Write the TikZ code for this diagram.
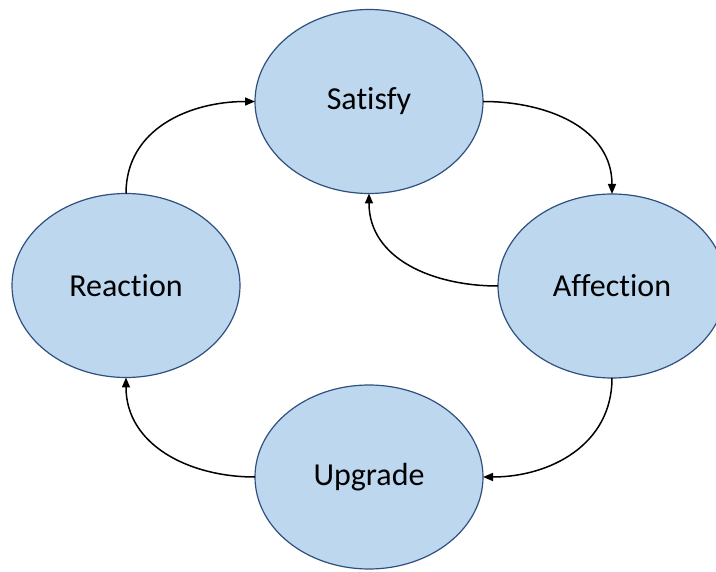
\documentclass[tikz,border=0pt]{standalone}
\usepackage{fontspec}
\setmainfont{Carlito}[Ligatures={NoCommon,NoContextual}]
\usetikzlibrary{shapes.geometric,arrows.meta}
\definecolor{fillblue}{HTML}{BDD7EE}
\definecolor{edgeblue}{HTML}{2F4F7F}
\tikzset{
  stage/.style={ellipse, draw=edgeblue, fill=fillblue, line width=1.2pt,
    minimum width=228pt, minimum height=184pt, inner sep=0pt, outer sep=0pt,
    font=\fontsize{32}{38}\selectfont, text=black},
  arr/.style={-{Triangle[length=10pt,width=8pt]}, line width=1.5pt, black, looseness=1.05}
}
\begin{document}
\begin{tikzpicture}[x=1pt,y=-1pt]
\useasboundingbox (0,0) rectangle (716,572);
\node[stage] (S) at (369,101.5) {Satisfy};
\node[stage] (R) at (126,285.5) {Reaction};
\node[stage] (A) at (612,286) {Affection};
\node[stage] (U) at (369,477) {Upgrade};
\draw[arr] (R.north) to[out=90,in=180] (S.west);
\draw[arr] (S.east) to[out=0,in=90] (A.north);
\draw[arr] (A.west) to[out=180,in=-90] (S.south);
\draw[arr] (A.south) to[out=-90,in=0] (U.east);
\draw[arr] (U.west) to[out=180,in=-90] (R.south);
\end{tikzpicture}
\end{document}
